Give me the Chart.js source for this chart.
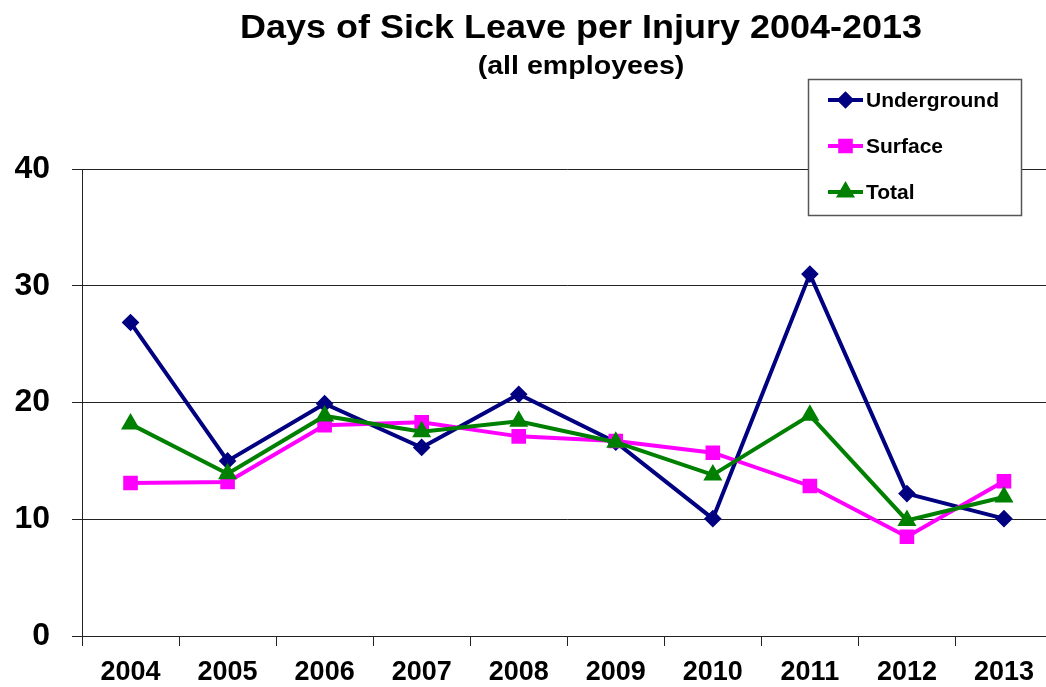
<!DOCTYPE html>
<html>
<head>
<meta charset="utf-8">
<script src="https://cdn.jsdelivr.net/npm/chart.js@4"></script>
<style>
    body { margin: 0; background: #fff; }
    #wrap { position: relative; width: 1046px; height: 687px; overflow: hidden; }
    canvas { position: absolute; left: 0; top: 0; }
    .title {
        position: absolute;
        left: 581px;
        white-space: nowrap;
        font-family: "Liberation Sans", Arial, sans-serif;
        font-weight: bold;
        color: #000;
        line-height: 1;
    }
    #mainTitle { top: 10px; font-size: 33px; transform: translateX(-50%) scaleX(1.09); }
    #subTitle { top: 52px; font-size: 26px; transform: translateX(-50%) scaleX(1.1); }
</style>
</head>
<body>
<div id="wrap">
    <canvas id="sickLeaveChart" width="1064" height="687"></canvas>
    <div class="title" id="mainTitle">Days of Sick Leave per Injury 2004-2013</div>
    <div class="title" id="subTitle">(all employees)</div>
</div>
<script>
const years = ['2004', '2005', '2006', '2007', '2008', '2009', '2010', '2011', '2012', '2013'];
const underground = [26.85, 15.0, 19.9, 16.15, 20.7, 16.6, 10.05, 31.0, 12.2, 10.05];
const surface = [13.1, 13.2, 18.05, 18.3, 17.1, 16.7, 15.7, 12.85, 8.5, 13.25];
const total = [18.15, 13.9, 18.85, 17.5, 18.4, 16.6, 13.8, 18.9, 9.9, 11.9];
const yTicks = [0, 10, 20, 30, 40];

const FONT = '"Liberation Sans", Arial, sans-serif';

// legend drawn inside the plot area, like the original box
const boxLegend = {
    id: 'boxLegend',
    afterDraw(chart) {
        const ctx = chart.ctx;
        const x = 808.5, y = 79.5, w = 213, h = 136;
        ctx.save();
        ctx.fillStyle = '#fff';
        ctx.fillRect(x, y, w, h);
        ctx.strokeStyle = '#555';
        ctx.lineWidth = 1.5;
        ctx.strokeRect(x, y, w, h);

        chart.data.datasets.forEach((ds, i) => {
            const cy = 100 + i * 46;
            ctx.strokeStyle = ds.borderColor;
            ctx.lineWidth = 4;
            ctx.beginPath();
            ctx.moveTo(828, cy);
            ctx.lineTo(863, cy);
            ctx.stroke();
            ctx.fillStyle = ds.borderColor;
            Chart.helpers.drawPoint(ctx, {
                pointStyle: ds.pointStyle,
                radius: ds.pointRadius,
                borderWidth: 1,
                rotation: 0
            }, 845.5, cy);
            ctx.fillStyle = '#000';
            ctx.font = 'bold 21px ' + FONT;
            ctx.textBaseline = 'middle';
            ctx.fillText(ds.label, 866, cy + 1);
        });
        ctx.restore();
    }
};

const chart = new Chart(document.getElementById('sickLeaveChart'), {
    type: 'line',
    data: {
        labels: years,
        datasets: [{
            label: 'Underground',
            data: underground,
            borderColor: '#000080',
            backgroundColor: '#000080',
            pointStyle: 'rectRot',
            pointRadius: 6,
            borderWidth: 4,
            order: 3
        }, {
            label: 'Surface',
            data: surface,
            borderColor: '#ff00ff',
            backgroundColor: '#ff00ff',
            pointStyle: 'rect',
            pointRadius: 7.5,
            borderWidth: 4,
            order: 2
        }, {
            label: 'Total',
            data: total,
            borderColor: '#008000',
            backgroundColor: '#008000',
            pointStyle: 'triangle',
            pointRadius: 7,
            borderWidth: 4,
            order: 1
        }]
    },
    options: {
        responsive: false,
        animation: false,
        layout: {
            padding: { top: 169, right: 2, bottom: 0, left: 0 }
        },
        elements: {
            line: { tension: 0 },
            point: { borderWidth: 1, hoverRadius: 6 }
        },
        plugins: {
            legend: { display: false },
            title: { display: false },
            tooltip: { enabled: false }
        },
        scales: {
            x: {
                offset: true,
                grid: {
                    offset: true,
                    drawOnChartArea: false,
                    color: '#222',
                    tickLength: 10
                },
                border: { color: '#222', width: 1 },
                ticks: {
                    color: '#000',
                    padding: 10,
                    font: { family: FONT, size: 27, weight: 'bold' }
                },
                afterFit(scale) { scale.height = 51; }
            },
            y: {
                min: 0,
                max: 40,
                afterBuildTicks(scale) {
                    scale.ticks = yTicks.map(v => ({ value: v }));
                },
                grid: {
                    color: '#222',
                    tickLength: 10
                },
                border: { color: '#222', width: 1 },
                ticks: {
                    color: '#000',
                    padding: 22,
                    font: { family: FONT, size: 32, weight: 'bold' }
                },
                afterFit(scale) { scale.width = 82; }
            }
        }
    },
    plugins: [boxLegend]
});
</script>
</body>
</html>
